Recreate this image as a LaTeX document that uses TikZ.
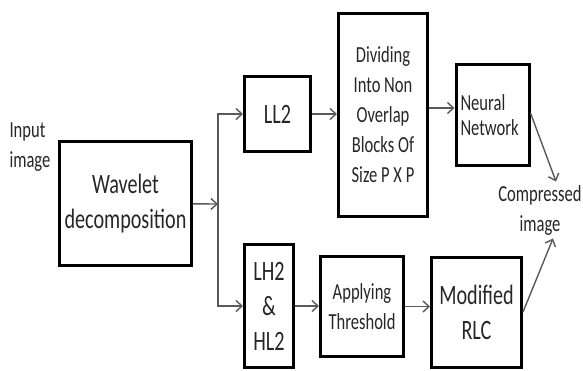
\documentclass[tikz,border=0pt]{standalone}
\usepackage{fontspec}
\setmainfont[FakeStretch=0.72]{Carlito}
\usetikzlibrary{arrows.meta}
\begin{document}
\begin{tikzpicture}[x=1pt,y=-1pt,
    blk/.style={draw=black,line width=3pt,inner sep=0pt,align=center,text=black!85},
    big/.style={font=\fontsize{28}{35}\selectfont},
    small/.style={font=\fontsize{23}{30}\selectfont},
    conn/.style={draw=black!65,line width=1.4pt,-{Straight Barb[length=6pt,width=11pt,line width=1.4pt]}}]
    \useasboundingbox (0,0) rectangle (583,371);
    \node[small,text=black!85,align=left,anchor=west] (input) at (6,147) {Input\\image};
    \node[blk,big,minimum width=132pt,minimum height=124pt] (wavelet) at (125.5,203.5) {Wavelet\\decomposition};
    \coordinate (split) at (218,204);
    \node[blk,big,minimum width=66pt,minimum height=75pt] (ll2) at (277.5,114) {LL2};
    \node[blk,small,minimum width=89pt,minimum height=203pt] (divide) at (383,115) {Dividing\\Into Non\\Overlap\\Blocks Of\\Size P X P};
    \node[blk,small,font=\fontsize{23}{25}\selectfont,align=left,text width=64pt,inner xsep=4.5pt,minimum height=101pt] (neural) at (492.5,115) {Neural\\Network};
    \node[blk,big,minimum width=49pt,minimum height=123pt] (lhhl) at (269,306) {LH2\\\&\\HL2};
    \node[blk,small,minimum width=83pt,minimum height=100pt] (thresh) at (362,306.5) {Applying\\Threshold};
    \node[blk,big,minimum width=90pt,minimum height=110pt] (rlc) at (476.5,312) {Modified\\RLC};
    \node[small,text=black!85,align=center] (comp) at (540,210) {Compressed\\image};
    % connectors
    \draw[conn] (wavelet) -- (split);
    \draw[conn] (split) |- (ll2);
    \draw[conn] (split) |- (lhhl);
    \draw[conn] (ll2) -- (ll2 -| divide.west);
    \draw[conn] ([yshift=7pt]divide.east) -- ([yshift=7pt]neural.west);
    \draw[conn] (lhhl) -- (lhhl -| thresh.west);
    \draw[conn] (thresh) -- (thresh -| rlc.west);
    \draw[conn] ([yshift=2pt]neural.east) -- ([xshift=16pt]comp.north);
    \draw[conn] (rlc.east) -- ([xshift=13pt]comp.south);
\end{tikzpicture}
\end{document}
